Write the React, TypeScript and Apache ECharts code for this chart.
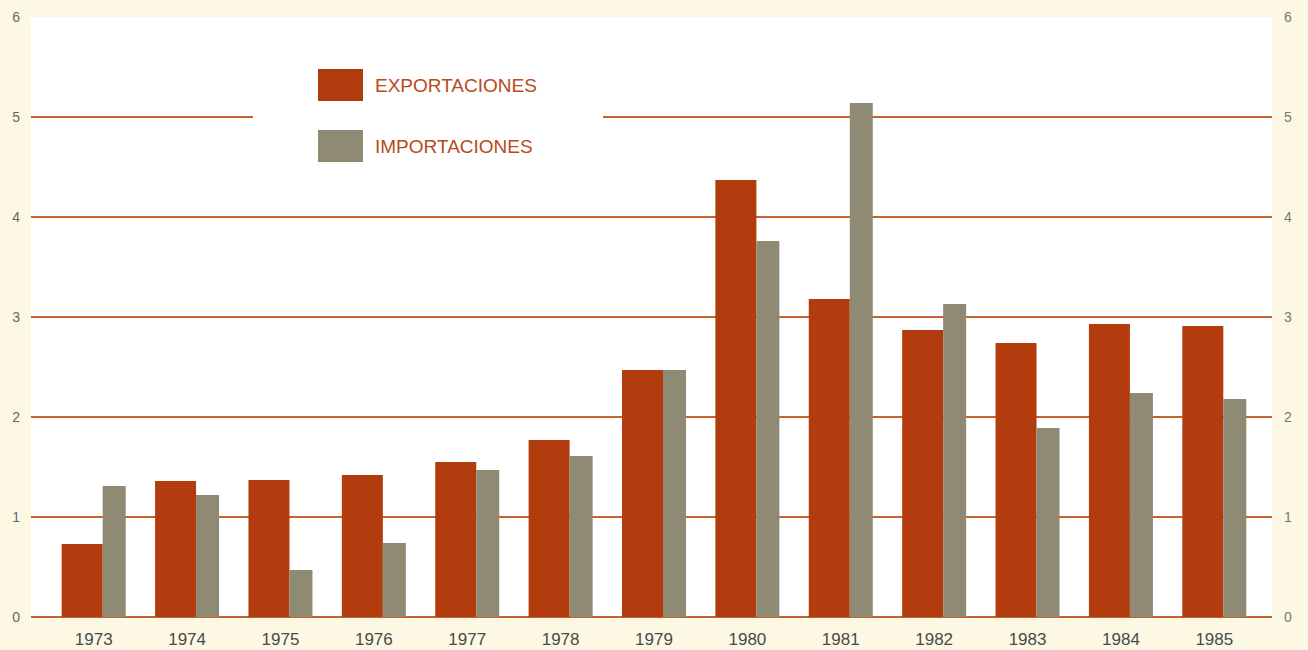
import React, { useEffect, useRef } from "react";
import * as echarts from "echarts";

const years = ["1973", "1974", "1975", "1976", "1977", "1978", "1979", "1980", "1981", "1982", "1983", "1984", "1985"];
const exportaciones = [0.73, 1.36, 1.37, 1.42, 1.55, 1.77, 2.47, 4.37, 3.18, 2.87, 2.74, 2.93, 2.91];
const importaciones = [1.31, 1.22, 0.47, 0.74, 1.47, 1.61, 2.47, 3.76, 5.14, 3.13, 1.89, 2.24, 2.18];
const seriesNames = ["EXPORTACIONES", "IMPORTACIONES"];

const RED = "#b23c0e";
const GRAY = "#8f8a73";
const GRID_LINE = "#c8622c";

export default function App() {
  const ref = useRef<HTMLDivElement>(null);
  useEffect(() => {
    document.body.style.margin = "0";
    const chart = echarts.init(ref.current!, null, { renderer: "svg" });
    const lineColors = [GRID_LINE, GRID_LINE, GRID_LINE, GRID_LINE, GRID_LINE, GRID_LINE, "rgba(0,0,0,0)"];
    chart.setOption({
      animation: false,
      backgroundColor: "#fcf8e4",
      textStyle: { fontFamily: "Liberation Sans, Arial, sans-serif" },
      grid: [
        { left: 31, right: 36, top: 17, bottom: 33, show: true, backgroundColor: "#ffffff", borderWidth: 0 },
        { left: 47, right: 47, top: 17, bottom: 33 },
      ],
      legend: {
        data: seriesNames,
        orient: "vertical",
        left: 318,
        top: 69,
        padding: 0,
        itemWidth: 45,
        itemHeight: 32,
        itemGap: 29,
        icon: "rect",
        selectedMode: false,
        textStyle: { color: "#b84a1c", fontSize: 19, padding: [0, 0, 0, 7] },
      },
      graphic: [
        { type: "rect", z: 1, shape: { x: 253, y: 110, width: 350, height: 14 }, style: { fill: "#ffffff" } },
      ],
      xAxis: [
        { type: "value", gridIndex: 0, min: 0, max: 1, show: false },
        {
          type: "category",
          gridIndex: 1,
          data: years,
          axisLine: { show: false },
          axisTick: { show: false },
          axisLabel: { color: "#4a4a4a", fontSize: 17, margin: 14 },
        },
      ],
      yAxis: [
        {
          type: "value",
          gridIndex: 0,
          position: "left",
          min: 0,
          max: 6,
          interval: 1,
          axisLine: { show: false },
          axisTick: { show: false },
          axisLabel: { color: "#666666", fontSize: 14, margin: 11 },
          splitLine: { show: true, lineStyle: { color: lineColors, width: 2 } },
        },
        {
          type: "value",
          gridIndex: 0,
          position: "right",
          min: 0,
          max: 6,
          interval: 1,
          axisLine: { show: false },
          axisTick: { show: false },
          axisLabel: { color: "#777777", fontSize: 14, margin: 12 },
          splitLine: { show: false },
        },
        { type: "value", gridIndex: 1, min: 0, max: 6, interval: 1, show: false, splitLine: { show: false } },
      ],
      series: [
        {
          name: seriesNames[0],
          type: "bar",
          xAxisIndex: 1,
          yAxisIndex: 2,
          data: exportaciones,
          barWidth: 41,
          barGap: "0%",
          itemStyle: { color: RED },
        },
        {
          name: seriesNames[1],
          type: "bar",
          xAxisIndex: 1,
          yAxisIndex: 2,
          data: importaciones,
          barWidth: 23,
          barGap: "0%",
          itemStyle: { color: GRAY },
        },
      ],
    });
    return () => chart.dispose();
  }, []);
  return <div ref={ref} style={{ width: 1308, height: 650 }} />;
}
